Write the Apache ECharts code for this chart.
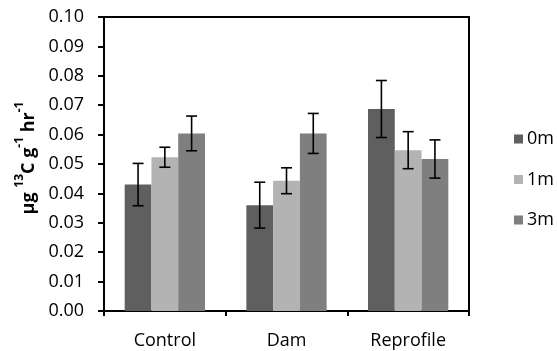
<!DOCTYPE html>
<html><head><meta charset="utf-8">
<script src="https://cdn.jsdelivr.net/npm/echarts@6/dist/echarts.min.js"></script>
<style>html,body{margin:0;padding:0;background:#fff}#c{width:557px;height:351px}</style>
</head><body><div id="c"></div>
<script>
const categories = ['Control', 'Dam', 'Reprofile'];
const seriesNames = ['0m', '1m', '3m'];
const values0m = [0.043, 0.036, 0.0687];
const values1m = [0.0523, 0.0443, 0.0547];
const values3m = [0.0604, 0.0604, 0.0517];
const err0m = [0.0072, 0.0078, 0.0097];
const err1m = [0.0034, 0.0044, 0.0063];
const err3m = [0.0059, 0.0068, 0.0065];
const colors = ['#5f5f5f', '#b3b3b3', '#7f7f7f'];

const values = [values0m, values1m, values3m];
const errs = [err0m, err1m, err3m];
const catGap = 0.34;
const FONT = 'Open Sans';

const chart = echarts.init(document.getElementById('c'));
const series = [];
seriesNames.forEach((n, i) => {
  series.push({
    name: n, type: 'bar', data: values[i], barGap: '0%', barCategoryGap: (catGap*100)+'%',
    itemStyle: { color: colors[i] }, z: 2
  });
});
seriesNames.forEach((n, i) => {
  series.push({
    type: 'custom', name: n + '_err', z: 5, silent: true,
    data: categories.map((c, j) => [j, values[i][j], errs[i][j]]),
    renderItem: function (params, api) {
      const x = api.value(0), v = api.value(1), e = api.value(2);
      const cw = api.size([1, 0])[0];
      const bw = cw * (1 - catGap) / 3;
      const center = api.coord([x, v])[0] + (i - 1) * bw;
      const yHi = api.coord([x, v + e])[1];
      const yLo = api.coord([x, v - e])[1];
      const hw = 5.5;
      const st = { stroke: '#000', lineWidth: 1.6 };
      return { type: 'group', children: [
        { type: 'line', shape: { x1: center, y1: yHi, x2: center, y2: yLo }, style: st },
        { type: 'line', shape: { x1: center - hw, y1: yHi, x2: center + hw, y2: yHi }, style: st },
        { type: 'line', shape: { x1: center - hw, y1: yLo, x2: center + hw, y2: yLo }, style: st }
      ]};
    }
  });
});

chart.setOption({
  animation: false,
  textStyle: { fontFamily: FONT },
  grid: { left: 104, top: 17, right: 88, bottom: 40, show: true, borderColor: '#000', borderWidth: 2, backgroundColor: 'transparent' },
  legend: {
    data: seriesNames, orient: 'vertical', left: 509, top: 125, itemWidth: 9, itemHeight: 9, itemGap: 22.5,
    icon: 'rect', textStyle: { fontFamily: FONT, fontSize: 18, color: '#000', padding: [0, 0, 0, -1] }
  },
  xAxis: {
    type: 'category', data: categories,
    axisLine: { lineStyle: { color: '#000', width: 2 } },
    axisTick: { show: true, length: 5, lineStyle: { color: '#000', width: 2 } },
    axisLabel: { color: '#000', fontSize: 18, fontFamily: FONT, margin: 21 }
  },
  yAxis: {
    type: 'value', min: 0, max: 0.1, interval: 0.01,
    axisLine: { show: true, lineStyle: { color: '#000', width: 2 } },
    axisTick: { show: true, length: 6, lineStyle: { color: '#000', width: 2 } },
    splitLine: { show: false },
    axisLabel: { color: '#000', fontSize: 18, fontFamily: FONT, margin: 20, formatter: v => v.toFixed(2) },
    name: '{m|µg }{s|13}{m|C g}{s|-1}{m| hr}{s|-1}',
    nameLocation: 'middle', nameRotate: 90, nameGap: 62,
    nameTextStyle: {
      padding: [0, 0, 0, 12],
      rich: {
        m: { fontFamily: FONT, fontSize: 18, fontWeight: 'bold', color: '#000', lineHeight: 24, verticalAlign: 'bottom' },
        s: { fontFamily: FONT, fontSize: 12, fontWeight: 'bold', color: '#000', lineHeight: 24, verticalAlign: 'top', padding: [0,0,8,0] }
      }
    }
  },
  series: series
});
</script></body></html>
